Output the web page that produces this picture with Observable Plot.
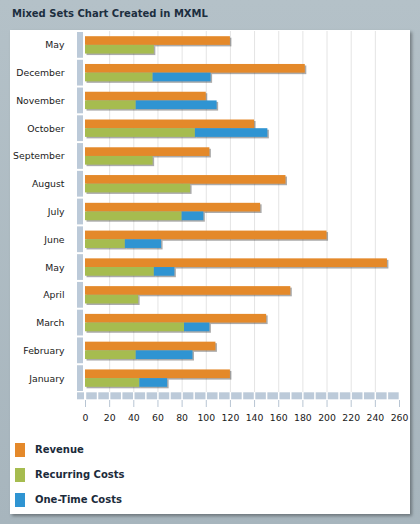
<!DOCTYPE html>
<html>
<head>
<meta charset="utf-8">
<script src="https://cdn.jsdelivr.net/npm/d3@7"></script>
<script src="https://cdn.jsdelivr.net/npm/@observablehq/plot@0.6"></script>
<style>
  html, body { margin: 0; padding: 0; }
  body {
    width: 420px; height: 524px; overflow: hidden; position: relative;
    background: linear-gradient(#b4c1c8, #a7b5bd);
    font-family: "DejaVu Sans", sans-serif;
  }
  #title {
    position: absolute; left: 12px; top: 8px;
    font-size: 10px; font-weight: bold; color: #1c2e3f;
  }
  #panel {
    position: absolute; left: 10px; top: 30px; width: 400px; height: 484px;
    background: #fff; box-shadow: 2px 2px 3px rgba(0,0,0,0.35);
  }
  #chart { position: absolute; left: 0; top: 0; }
  #chart svg { overflow: visible; }
  .legend { position: absolute; left: 5px; top: 407px; }
  .legend-item { display: flex; align-items: center; height: 25px; }
  .swatch { width: 10px; height: 14px; margin-right: 10px; }
  .legend-item span { font-size: 10px; font-weight: bold; color: #1b2b3b; }
</style>
</head>
<body>
<div id="title">Mixed Sets Chart Created in MXML</div>
<div id="panel">
  <div id="chart"></div>
  <div class="legend" id="legend"></div>
</div>
<script>
// categories in chart order (bottom row first); the top row repeats "May"
const months = ["January", "February", "March", "April", "May", "June", "July",
  "August", "September", "October", "November", "December", "May"];
const revenue   = [120, 108, 150, 170, 250, 200, 145, 166, 103, 140, 100, 182, 120];
const recurring = [45, 42, 82, 44, 57, 33, 80, 87, 56, 91, 42, 56, 57];
const oneTime   = [23, 47, 21, 0, 17, 30, 18, 0, 0, 60, 67, 48, 0];

const seriesNames = ["Revenue", "Recurring Costs", "One-Time Costs"];
const seriesColors = ["#e4892a", "#a6bc4f", "#2f94d2"];

const xTicks = [0, 20, 40, 60, 80, 100, 120, 140, 160, 180, 200, 220, 240, 260];
const minorTicks = [0, 10, 20, 30, 40, 50, 60, 70, 80, 90, 100, 110, 120, 130,
  140, 150, 160, 170, 180, 190, 200, 210, 220, 230, 240, 250];

// rows for the marks
const revRows = months.map((m, i) => ({ i, series: "Revenue", value: revenue[i] }));
const costRows = months.flatMap((m, i) => [
  { i, series: "Recurring Costs", value: recurring[i] },
  { i, series: "One-Time Costs", value: oneTime[i] },
]);

const yTop = 1, yBottom = 362;
const band = (yBottom - yTop) / months.length;
const half = band / 2;
const edge = 5.2;
const shadow = { fill: "#444", fillOpacity: 0.45, dx: 1.5, dy: 1.5 };

const plot = Plot.plot({
  width: 400,
  height: 405,
  marginLeft: 75,
  marginRight: 11,
  marginTop: yTop,
  marginBottom: 405 - yBottom,
  style: { fontFamily: "DejaVu Sans", fontSize: "9.3px", color: "#1a1a1a", background: "transparent" },
  x: { domain: [0, 260], ticks: xTicks, tickSize: 0, tickPadding: 22, label: null },
  y: {
    domain: months.map((m, i) => i).reverse(),
    padding: 0,
    round: false,
    tickSize: 0,
    tickPadding: 21,
    tickFormat: i => months[i],
    label: null,
  },
  color: { domain: seriesNames, range: seriesColors },
  marks: [
    Plot.ruleX(xTicks.filter(v => v > 0 && v < 260), { stroke: "#e4e4e4", strokeWidth: 1 }),
    // drop shadows
    Plot.barX(revRows, { x: "value", y: "i", insetTop: edge, insetBottom: half, ...shadow }),
    Plot.barX(costRows, { x: "value", y: "i", insetTop: half, insetBottom: edge, ...shadow }),
    // bars
    Plot.barX(revRows, { x: "value", y: "i", fill: "series", insetTop: edge, insetBottom: half }),
    Plot.barX(costRows, { x: "value", y: "i", fill: "series", insetTop: half, insetBottom: edge }),
  ],
});

// axis bands and tick lines, placed with the plot's own scales
const x = plot.scale("x"), y = plot.scale("y");
const svg = d3.select(plot);
const deco = svg.insert("g", ":first-child").attr("fill", "#bccad9");
const x0 = x.apply(0);
deco.selectAll(".yb").data(y.domain).join("rect")
  .attr("x", x0 - 8).attr("width", 6)
  .attr("y", d => y.apply(d) + 1).attr("height", y.bandwidth - 2);
deco.append("rect").attr("x", x0 - 8).attr("width", 7)
  .attr("y", yBottom + 0.3).attr("height", 7);
deco.selectAll(".xb").data(minorTicks).join("rect")
  .attr("x", d => x.apply(d) + 1.2).attr("width", d => x.apply(d + 10) - x.apply(d) - 1.5)
  .attr("y", yBottom + 0.3).attr("height", 7);
svg.append("g").attr("stroke", "#b8c5d3")
  .selectAll("line").data(xTicks).join("line")
  .attr("x1", d => x.apply(d) + 0.5).attr("x2", d => x.apply(d) + 0.5)
  .attr("y1", yBottom + 8).attr("y2", yBottom + 15);

document.getElementById("chart").appendChild(plot);

// legend
const legend = d3.select("#legend");
seriesNames.forEach((s, k) => {
  const item = legend.append("div").attr("class", "legend-item");
  item.append("div").attr("class", "swatch").style("background", seriesColors[k]);
  item.append("span").text(s);
});
</script>
</body>
</html>
